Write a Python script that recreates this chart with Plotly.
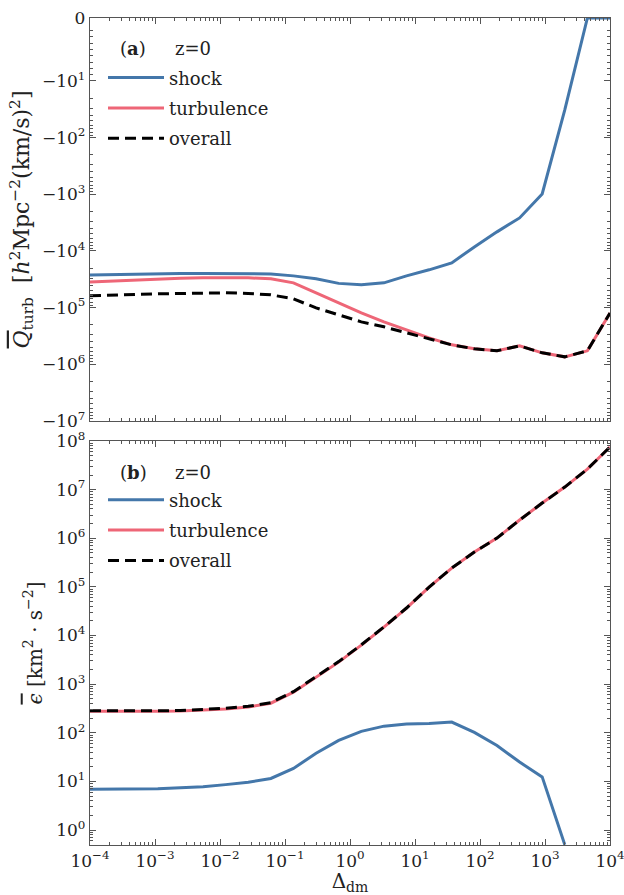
import numpy as np
import plotly.graph_objects as go

# ---------------- data ----------------
delta_dm = [1.000e-4, 2.227e-4, 4.961e-4, 1.105e-3, 2.461e-3, 5.482e-3, 1.221e-2, 2.720e-2,
            6.059e-2, 0.1350, 0.3008, 0.6699, 1.493, 3.325, 7.405, 16.49, 36.75, 81.85,
            182.4, 406.2, 904.6, 2015.0, 4489.0, 10000.0]

# panel (a): Q_turb  [h^2 Mpc^-2 (km/s)^2]
q_shock = [-26400, -25900, -25400, -25400, -25000, -25000, -25000, -25400, -25400, -27500,
           -31000, -37300, -39600, -36500, -27500, -21500, -16200, -8470, -4600, -2610,
           -984, -32.5, 0, 0]
q_turbulence = [-35100, -33700, -32300, -31000, -30400, -29800, -29800, -29800, -31000, -36500,
                -54800, -82300, -1.24e5, -1.78e5, -2.47e5, -3.41e5, -4.53e5, -5.33e5, -5.78e5,
                -4.72e5, -6.27e5, -7.38e5, -5.78e5, -1.24e5]
q_overall = [-61900, -59400, -58300, -57100, -56000, -54800, -54800, -56000, -59400, -70000,
             -1.01e5, -1.34e5, -1.78e5, -2.18e5, -2.79e5, -3.55e5, -4.53e5, -5.33e5, -5.78e5,
             -4.72e5, -6.27e5, -7.38e5, -5.78e5, -1.24e5]

# panel (b): epsilon  [km^2 s^-2]
eps_shock = [6.9, 6.9, 7.0, 7.1, 7.4, 7.8, 8.6, 9.6, 11.5, 18.5, 38, 70, 107, 137, 151, 155,
             166, 102, 55, 25, 12.4, 0.5, None, None]
eps_turbulence = [277, 275, 275, 276, 280, 290, 310, 340, 406, 684, 1393, 2838, 6340, 14890,
                  36640, 99100, 2.44e5, 5.20e5, 1.01e6, 2.37e6, 5.30e6, 1.13e7, 2.65e7, 7.53e7]
eps_overall = [284, 282, 282, 283, 287, 298, 319, 350, 417, 702, 1431, 2908, 6447, 15027,
               36790, 99250, 2.44e5, 5.20e5, 1.01e6, 2.37e6, 5.30e6, 1.13e7, 2.65e7, 7.53e7]

series_names = ["shock", "turbulence", "overall"]
x_exponents = list(range(-4, 5))
q_exponents = list(range(1, 8))
eps_exponents = list(range(0, 9))

# ---------------- styling ----------------
BLUE = "#4477AA"
RED = "#EE6677"
FONT = "DejaVu Serif"
TXT = "#222222"
AXCOL = "#555555"

LINTHRESH = 10.0
LINSCALE = 1.0 / (1.0 - 1.0 / 10.0)  # matplotlib symlog (linscale=1, base 10)


def symlog(v):
    arr = np.asarray(v, dtype=float)
    a = np.abs(arr)
    t = np.where(a <= LINTHRESH, a / LINTHRESH * LINSCALE,
                 LINSCALE + np.log10(np.maximum(a, 1e-300) / LINTHRESH))
    return np.sign(arr) * t


fig = go.Figure()

styles = [dict(color=BLUE, width=3), dict(color=RED, width=3),
          dict(color="black", width=3, dash="11px,6px")]

for name, vals, st in zip(series_names, [q_shock, q_turbulence, q_overall], styles):
    fig.add_trace(go.Scatter(x=delta_dm, y=symlog(vals), mode="lines", name=name,
                             line=st, xaxis="x", yaxis="y", legend="legend",
                             legendgroup="a_" + name))
for name, vals, st in zip(series_names, [eps_shock, eps_turbulence, eps_overall], styles):
    fig.add_trace(go.Scatter(x=delta_dm, y=vals, mode="lines", name=name,
                             line=st, xaxis="x2", yaxis="y2", legend="legend2",
                             legendgroup="b_" + name))

# ticks
x_major = [10.0 ** e for e in x_exponents]
x_minor = [m * 10.0 ** e for e in x_exponents[:-1] for m in range(2, 10)]
x_text = ["10<sup>\u2212%d</sup>" % (-e) if e < 0 else "10<sup>%d</sup>" % e for e in x_exponents]

q_major_vals = [0.0] + [-float(symlog(10.0 ** e)) for e in q_exponents]
q_major_text = ["0"] + ["\u221210<sup>%d</sup>" % e for e in q_exponents]
q_minor_vals = [-float(symlog(m)) for m in range(2, 10)] + \
               [-float(symlog(m * 10.0 ** e)) for e in q_exponents[:-1] for m in range(2, 10)]

eps_major = [10.0 ** e for e in eps_exponents]
eps_text = ["10<sup>%d</sup>" % e for e in eps_exponents]
eps_minor = [m * 10.0 ** e for e in range(-1, 8) for m in range(2, 10) if m * 10.0 ** e > 0.49]

minor_style = dict(ticks="inside", ticklen=3, tickcolor=AXCOL, tickwidth=1)
common_axis = dict(showline=True, linecolor=AXCOL, linewidth=1.3, mirror="allticks",
                   ticks="inside", ticklen=6, tickwidth=1.1, tickcolor=AXCOL,
                   showgrid=False, zeroline=False, automargin=False,
                   ticklabeloverflow="allow",
                   tickfont=dict(family=FONT, size=17, color=TXT))

x_range = [-4, 4]
fig.update_layout(
    width=624, height=895,
    margin=dict(l=90, r=14, t=18, b=50),
    paper_bgcolor="white", plot_bgcolor="white",
    font=dict(family=FONT, color=TXT),
    xaxis=dict(type="log", range=x_range, domain=[0, 1], anchor="y",
               tickmode="array", tickvals=x_major, showticklabels=False,
               minor=dict(tickmode="array", tickvals=x_minor, **minor_style), **common_axis),
    yaxis=dict(range=[-float(symlog(1e7)), 0], domain=[0.5127, 1], anchor="x",
               tickmode="array", tickvals=q_major_vals, ticktext=q_major_text,
               minor=dict(tickmode="array", tickvals=q_minor_vals, **minor_style),
               title=dict(text="<span style=\"text-decoration:overline\"><i>Q</i></span><sub>turb</sub>  [<i>h</i><sup>2</sup>Mpc<sup>\u22122</sup>(km/s)<sup>2</sup>]",
                          font=dict(family=FONT, size=22, color=TXT), standoff=6),
               **common_axis),
    xaxis2=dict(type="log", range=x_range, domain=[0, 1], anchor="y2",
                tickmode="array", tickvals=x_major, ticktext=x_text,
                minor=dict(tickmode="array", tickvals=x_minor, **minor_style),
                title=dict(text="\u0394<sub>dm</sub>", font=dict(family=FONT, size=20, color=TXT),
                           standoff=6),
                **common_axis),
    yaxis2=dict(type="log", range=[np.log10(0.493), 8], domain=[0, 0.4885], anchor="x2",
                tickmode="array", tickvals=eps_major, ticktext=eps_text,
                minor=dict(tickmode="array", tickvals=eps_minor, **minor_style),
                title=dict(text="<span style=\"text-decoration:overline\"><i>\u03f5</i></span> [km<sup>2</sup> \u00b7 s<sup>\u22122</sup>]",
                           font=dict(family=FONT, size=20, color=TXT), standoff=8),
                **common_axis),
    legend=dict(x=0.025, y=0.950, xanchor="left", yanchor="top", bgcolor="rgba(0,0,0,0)",
                font=dict(family=FONT, size=18, color=TXT), itemwidth=56,
                tracegroupgap=4),
    legend2=dict(x=0.025, y=0.4396, xanchor="left", yanchor="top", bgcolor="rgba(0,0,0,0)",
                 font=dict(family=FONT, size=18, color=TXT), itemwidth=56,
                 tracegroupgap=4),
    showlegend=True,
)

# panel labels
for ypx, lab in [(48, "(<b>a</b>)"), (472, "(<b>b</b>)")]:
    yp = 1 - (ypx - 18) / 827.0
    fig.add_annotation(x=(133 - 90) / 520.0, y=yp, xref="paper", yref="paper", text=lab,
                       showarrow=False, xanchor="center", yanchor="middle",
                       font=dict(family=FONT, size=18, color=TXT))
    fig.add_annotation(x=(173 - 90) / 520.0, y=yp, xref="paper", yref="paper", text="z=0",
                       showarrow=False, xanchor="left", yanchor="middle",
                       font=dict(family=FONT, size=18, color=TXT))

fig.write_html("out.html")
